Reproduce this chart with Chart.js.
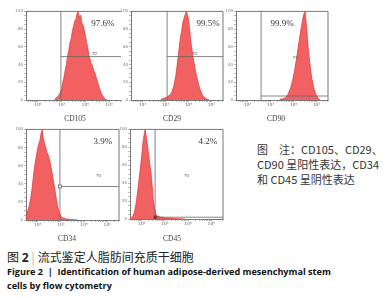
<!DOCTYPE html>
<html>
<head>
<meta charset="utf-8">
<script src="https://cdn.jsdelivr.net/npm/chart.js@4.4.0/dist/chart.umd.min.js"></script>
<style>
  html, body { margin: 0; padding: 0; background: #fff; }
  body { width: 390px; height: 300px; position: relative; overflow: hidden;
         font-family: "Noto Sans CJK SC", "Noto Sans", sans-serif; }
  .panel { position: absolute; }
  .axis-title { position: absolute; font-family: "Liberation Serif", serif; font-size: 7.5px;
                color: #444; transform: translate(-50%, -50%); white-space: nowrap; }
  .note { position: absolute; left: 257px; top: 142px; font-size: 11px; line-height: 15px; color: #333; white-space: nowrap; }
  .cap-cn { position: absolute; left: 7px; top: 250px; font-size: 12px; line-height: 14px; color: #222; white-space: nowrap; }
  .cap-cn b { font-family: "Open Sans", sans-serif; }
  .cap-cn .bar { color: #888; font-weight: 300; margin: 0 3px; }
  .cap-en { position: absolute; left: 7px; top: 265px; font-family: "Open Sans", sans-serif; font-weight: 700;
            font-size: 9.1px; line-height: 14px; color: #111; white-space: nowrap; }
</style>
</head>
<body>
<div id="panels"></div>
<div class="note">图　注：CD105、CD29、<br>CD90 呈阳性表达，CD34<br>和 CD45 呈阴性表达</div>
<div class="cap-cn">图 <b>2</b><span class="bar">|</span>流式鉴定人脂肪间充质干细胞</div>
<div class="cap-en">Figure 2 &nbsp;|&nbsp; Identification of human adipose-derived mesenchymal stem<br>cells by flow cytometry</div>

<script>
// markers and gate results
const markers = ['CD105', 'CD29', 'CD90', 'CD34', 'CD45'];
const positivePct = ['97.6%', '99.5%', '99.9%', '3.9%', '4.2%'];

// gate position: x in log decades, y in % of max count
const gateX = [1.47, 1.57, 1.09, 1.46, 1.08];
const gateY = [49, 49, 4.5, 37, 2];

// histogram bins (log decades), step 0.05
const binStep = 0.05;
const binStart = [1.2, 1.3, 1.9, 0, 0];

const cd105Counts = [1, 2, 3, 4, 6, 9, 13, 20, 26, 34, 40, 50, 56, 65, 69, 78, 83, 89, 91, 98,
  100, 93, 96, 87, 85, 79, 73, 65, 59, 50, 46, 41, 39, 33, 31, 26, 22, 17, 13, 9, 6, 4, 2, 1, 0];
const cd29Counts = [1, 1, 2, 2, 3, 3, 4, 5, 6, 8, 11, 15, 21, 28, 38, 49, 60, 71, 78, 87,
  92, 96, 100, 97, 91, 80, 67, 57, 48, 41, 33, 27, 22, 17, 12, 9, 6, 4, 3, 2, 1, 0.5, 0];
const cd90Counts = [0.5, 1, 1, 1.5, 2, 3, 4, 6, 9, 12, 16, 21, 27, 34, 42, 50, 59, 68, 76, 84,
  91, 97, 100, 88, 72, 56, 44, 33, 24, 18, 12, 8, 5, 3, 1, 0];
const cd34Counts = [5, 8, 12, 17, 24, 33, 44, 55, 64, 72, 79, 84, 88, 96, 100, 90, 84, 80, 75, 72,
  68, 62, 55, 48, 40, 32, 24, 17, 11, 7, 4, 3, 2, 2, 1.5, 1, 1, 1, 0.5, 0.5, 0.5, 0.3, 0.3, 0.2, 0.1, 0];
const cd45Counts = [0.5, 1, 2, 5, 9, 16, 25, 35, 47, 58, 70, 84, 93, 100, 92, 82, 72, 62, 52, 38,
  22, 12, 6, 4, 3, 3, 2, 2, 2, 1.5, 1.5, 1, 1, 1, 1, 1, 0.8, 0.8, 0.6, 0.5,
  0.5, 0.4, 0.3, 0.3, 0.2, 0.2, 0.1, 0];
const allCounts = [cd105Counts, cd29Counts, cd90Counts, cd34Counts, cd45Counts];

// axis ticks
const xTickValues = [0.5, 1.5, 2.5, 3.5];
const xTickLabels = ['10²', '10³', '10⁴', '10⁵'];
const yTickValues = [0, 20, 40, 60, 80, 100];
const yTickLabels = ['0', '20', '40', '60', '80', '100'];

// layout of the five plot boxes (px on the page)
const boxes = [
  { left: 26, top: 11, width: 95, height: 89, rightEdge: false, handle: '', title: [75, 118], pct: 3.24, p2: [2.9, 52] },
  { left: 131, top: 11, width: 92, height: 89, rightEdge: true, handle: '', title: [172, 118], pct: 3.35, p2: [2.78, 52] },
  { left: 236, top: 11, width: 92, height: 89, rightEdge: true, handle: '', title: [276, 118], pct: 2.0, p2: [2.6, 48] },
  { left: 26, top: 129, width: 93, height: 91, rightEdge: true, handle: 'open', title: [67, 238], pct: 3.31, p2: [3.14, 49] },
  { left: 130, top: 129, width: 93, height: 90, rightEdge: true, handle: 'solid', title: [172, 238], pct: 3.35, p2: [2.45, 48] }
];

const PAD_L = 12, PAD_T = 3, PAD_R = 4, PAD_B = 12;

const gatePlugin = {
  id: 'gate',
  afterDatasetsDraw(chart, args, opts) {
    const { ctx, chartArea: a, scales: { x, y } } = chart;
    ctx.save();
    ctx.strokeStyle = '#555';
    ctx.lineWidth = 0.8;
    ctx.beginPath();
    ctx.moveTo(a.left, a.top);
    ctx.lineTo(a.right, a.top);
    if (opts.rightEdge) ctx.lineTo(a.right, a.bottom);
    ctx.stroke();

    const gx = x.getPixelForValue(opts.gateX);
    const gy = y.getPixelForValue(opts.gateY);
    ctx.strokeStyle = '#666';
    ctx.beginPath();
    ctx.moveTo(gx, a.top);
    ctx.lineTo(gx, a.bottom);
    ctx.moveTo(gx, gy);
    ctx.lineTo(a.right, gy);
    ctx.stroke();
    if (opts.handle === 'open') {
      ctx.fillStyle = '#fff';
      ctx.fillRect(gx - 1.5, gy - 1.5, 3, 3);
      ctx.strokeRect(gx - 1.5, gy - 1.5, 3, 3);
    } else if (opts.handle === 'solid') {
      ctx.fillStyle = '#444';
      ctx.fillRect(gx - 1.5, gy - 1.5, 3, 3);
    }

    ctx.fillStyle = '#333';
    ctx.font = '9px "Liberation Serif", serif';
    ctx.textAlign = 'center';
    ctx.textBaseline = 'middle';
    ctx.fillText(opts.pct, x.getPixelForValue(opts.pctX), a.top + 12);

    ctx.fillStyle = '#666';
    ctx.font = '4px "DejaVu Sans", sans-serif';
    ctx.fillText('P2', x.getPixelForValue(opts.p2[0]), y.getPixelForValue(opts.p2[1]));
    ctx.restore();
  }
};

function buildTicks(axis) {
  const ticks = [];
  for (let k = -1; k < 4; k++) {
    for (let m = 1; m <= 9; m++) {
      const v = k + 0.5 + Math.log10(m);
      if (v >= 0 && v <= 4) ticks.push({ value: v });
    }
  }
  axis.ticks = ticks;
}

function makePanel(i) {
  const b = boxes[i];
  const w = b.width + PAD_L + PAD_R;
  const h = b.height + PAD_T + PAD_B;
  const holder = document.createElement('div');
  holder.className = 'panel';
  holder.style.left = (b.left - PAD_L) + 'px';
  holder.style.top = (b.top - PAD_T) + 'px';
  const canvas = document.createElement('canvas');
  canvas.width = w;
  canvas.height = h;
  canvas.style.width = w + 'px';
  canvas.style.height = h + 'px';
  holder.appendChild(canvas);
  document.getElementById('panels').appendChild(holder);

  const t = document.createElement('div');
  t.className = 'axis-title';
  t.style.left = b.title[0] + 'px';
  t.style.top = b.title[1] + 'px';
  t.textContent = markers[i];
  document.body.appendChild(t);

  const points = allCounts[i].map((c, j) => ({ x: binStart[i] + j * binStep, y: c }));

  new Chart(canvas.getContext('2d'), {
    type: 'line',
    data: {
      datasets: [{
        data: points,
        fill: 'origin',
        backgroundColor: 'rgba(238, 62, 62, 0.82)',
        borderColor: '#e23434',
        borderWidth: 0.7,
        pointRadius: 0,
        tension: 0
      }]
    },
    options: {
      responsive: false,
      animation: false,
      events: [],
      layout: { padding: { left: 0, top: PAD_T, right: PAD_R, bottom: 0 } },
      plugins: {
        legend: { display: false },
        tooltip: { enabled: false },
        gate: {
          gateX: gateX[i], gateY: gateY[i], pct: positivePct[i],
          pctX: b.pct, p2: b.p2, rightEdge: b.rightEdge, handle: b.handle
        }
      },
      scales: {
        x: {
          type: 'linear',
          min: 0,
          max: 4,
          afterBuildTicks: buildTicks,
          afterFit(axis) { axis.height = PAD_B; },
          border: { color: '#555', width: 0.8 },
          grid: { drawOnChartArea: false, tickLength: 2, color: '#777', lineWidth: 0.5 },
          ticks: {
            autoSkip: false,
            maxRotation: 0,
            padding: 0,
            color: '#666',
            font: { size: 4.5, family: 'DejaVu Sans' },
            callback(v) {
              const k = xTickValues.findIndex(t => Math.abs(t - v) < 1e-6);
              return k >= 0 ? xTickLabels[k] : '';
            }
          }
        },
        y: {
          min: 0,
          max: 100,
          afterFit(axis) { axis.width = PAD_L; },
          border: { color: '#555', width: 0.8 },
          grid: { drawOnChartArea: false, tickLength: 2, color: '#777', lineWidth: 0.5 },
          ticks: {
            stepSize: 5,
            autoSkip: false,
            padding: 1,
            color: '#777',
            font: { size: 4, family: 'DejaVu Sans' },
            callback(v) {
              const k = yTickValues.indexOf(v);
              return k >= 0 ? yTickLabels[k] : '';
            }
          }
        }
      }
    },
    plugins: [gatePlugin]
  });
}

for (let i = 0; i < boxes.length; i++) makePanel(i);
</script>
</body>
</html>
